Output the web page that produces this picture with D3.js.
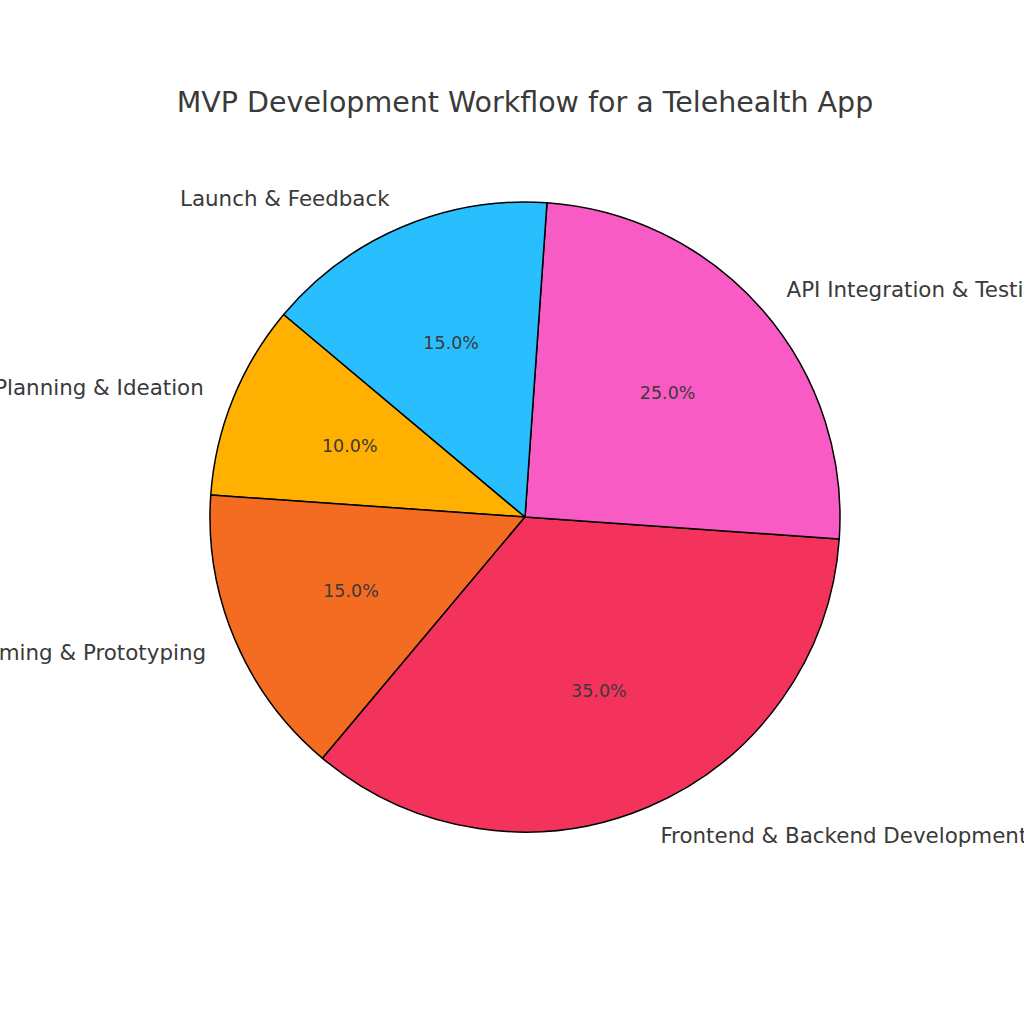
<!DOCTYPE html>
<html><head><meta charset="utf-8">
<script src="https://cdn.jsdelivr.net/npm/d3@7"></script>
<style>body{margin:0;background:#fff}svg{display:block}</style>
</head><body>
<svg id="c" width="1024" height="1024"></svg>
<script>
const categories = ["Planning & Ideation", "Wireframing & Prototyping", "Frontend & Backend Development", "API Integration & Testing", "Launch & Feedback"];
const values = [10, 15, 35, 25, 15];
const colors = ["#FFB000", "#F36C21", "#F3335B", "#F95BC5", "#29BFFF"];
const title = "MVP Development Workflow for a Telehealth App";

const svg = d3.select("#c");
const cx = 525, cy = 517, R = 315;
const startDeg = 140; // matplotlib startangle, counterclockwise

const total = d3.sum(values);
const pie = d3.pie().sort(null).value(d => d)
  .startAngle((90 - startDeg) * Math.PI / 180)
  .endAngle((90 - startDeg - 360) * Math.PI / 180);
const arcs = pie(values);
const arc = d3.arc().innerRadius(0).outerRadius(R);

const g = svg.append("g").attr("transform", `translate(${cx},${cy})`);
g.selectAll("path").data(arcs).join("path")
  .attr("d", arc)
  .attr("fill", (d, i) => colors[i])
  .attr("stroke", "#000")
  .attr("stroke-width", 1.5)
  .attr("stroke-linejoin", "round");

const mid = d => (d.startAngle + d.endAngle) / 2;
g.selectAll("text.lab").data(arcs).join("text")
  .attr("class", "lab")
  .attr("x", d => Math.sin(mid(d)) * R * 1.1)
  .attr("y", d => -Math.cos(mid(d)) * R * 1.1)
  .attr("dy", "0.35em")
  .attr("text-anchor", d => Math.sin(mid(d)) < 0 ? "end" : "start")
  .attr("font-family", "DejaVu Sans")
  .attr("font-size", 21.4)
  .attr("fill", "#3a3a3a")
  .text((d, i) => categories[i]);

g.selectAll("text.pct").data(arcs).join("text")
  .attr("class", "pct")
  .attr("x", d => Math.sin(mid(d)) * R * 0.6)
  .attr("y", d => -Math.cos(mid(d)) * R * 0.6)
  .attr("dy", "0.35em")
  .attr("text-anchor", "middle")
  .attr("font-family", "DejaVu Sans")
  .attr("font-size", 17.5)
  .attr("fill", "#3a3a3a")
  .text(d => (d.value / total * 100).toFixed(1) + "%");

svg.append("text")
  .attr("x", 525).attr("y", 102).attr("dy", "0.35em")
  .attr("text-anchor", "middle")
  .attr("font-family", "DejaVu Sans")
  .attr("font-size", 28.5)
  .attr("fill", "#3a3a3a")
  .text(title);
</script>
</body></html>
